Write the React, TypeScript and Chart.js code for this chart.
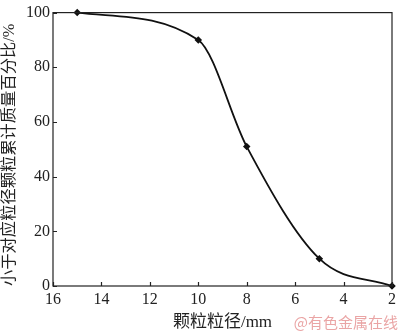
import React, { useEffect, useRef } from "react";
import { Chart, registerables } from "chart.js";

Chart.register(...registerables);

const sizes = [15, 10, 8, 5, 2];
const passing = [100, 90, 51, 10, 0];
const xTicks = [16, 14, 12, 10, 8, 6, 4, 2];
const yTicks = [0, 20, 40, 60, 80, 100];
const xTitle = "颗粒粒径/mm";
const yTitle = "小于对应粒径颗粒累计质量百分比/%";
const watermark = "@有色金属在线";

const FONT = "'Liberation Serif', 'Noto Sans CJK SC', serif";

const framePlugin = {
  id: "frame",
  afterDraw(chart: any) {
    const { ctx, chartArea } = chart;
    const xs = chart.scales.x;
    const ys = chart.scales.y;
    ctx.save();
    ctx.strokeStyle = "#222";
    ctx.lineWidth = 1.2;
    ctx.strokeRect(chartArea.left, chartArea.top, chartArea.right - chartArea.left, chartArea.bottom - chartArea.top);
    ctx.beginPath();
    xTicks.forEach((v) => {
      const px = Math.round(xs.getPixelForValue(v)) + 0.5;
      ctx.moveTo(px, chartArea.bottom);
      ctx.lineTo(px, chartArea.bottom - 4);
    });
    yTicks.forEach((v) => {
      const py = Math.round(ys.getPixelForValue(v)) + 0.5;
      ctx.moveTo(chartArea.left, py);
      ctx.lineTo(chartArea.left + 4, py);
    });
    ctx.stroke();
    ctx.restore();
  },
};

export default function App() {
  const ref = useRef<HTMLCanvasElement>(null);
  useEffect(() => {
    if (!ref.current) return;
    const chart = new Chart(ref.current, {
      type: "line",
      data: {
        datasets: [
          {
            data: sizes.map((s, i) => ({ x: s, y: passing[i] })),
            borderColor: "#111",
            backgroundColor: "#111",
            borderWidth: 1.8,
            pointStyle: "rectRot",
            pointRadius: 2.5,
            cubicInterpolationMode: "monotone",
            fill: false,
            clip: 6,
          },
        ],
      },
      options: {
        animation: false,
        responsive: false,
        maintainAspectRatio: false,
        layout: { padding: { top: 5, right: 4, left: 0, bottom: 0 } },
        plugins: { legend: { display: false }, tooltip: { enabled: false } },
        scales: {
          x: {
            type: "linear",
            reverse: true,
            min: 2,
            max: 16,
            afterBuildTicks: (s: any) => {
              s.ticks = xTicks.map((v) => ({ value: v }));
            },
            afterFit: (s: any) => {
              s.height = 47;
            },
            grid: { display: false, drawTicks: false },
            border: { display: false },
            ticks: { color: "#222", font: { family: FONT, size: 16 }, padding: 4, maxRotation: 0, autoSkip: false },
            title: { display: true, text: xTitle, color: "#222", font: { family: FONT, size: 17 }, padding: { top: 1, bottom: 0 } },
          },
          y: {
            type: "linear",
            min: 0,
            max: 100,
            afterBuildTicks: (s: any) => {
              s.ticks = yTicks.map((v) => ({ value: v }));
            },
            afterFit: (s: any) => {
              s.width = 53;
            },
            grid: { display: false, drawTicks: false },
            border: { display: false },
            ticks: { color: "#222", font: { family: FONT, size: 16 }, padding: 3 },
            title: {
              display: true,
              text: yTitle,
              align: "start",
              color: "#222",
              font: { family: FONT, size: 16.3 },
              padding: { top: 0, bottom: 2 },
            },
          },
        },
      },
      plugins: [framePlugin],
    } as any);
    return () => chart.destroy();
  }, []);
  return (
    <div style={{ position: "fixed", left: 0, top: 0, width: 400, height: 333, background: "#fff" }}>
      <canvas ref={ref} width={400} height={333} style={{ display: "block" }} />
      <span
        style={{
          position: "absolute",
          right: 2,
          bottom: 2,
          fontFamily: "'Noto Sans CJK SC', sans-serif",
          fontSize: 15,
          color: "#eaa5a5",
          lineHeight: "18px",
        }}
      >
        {watermark}
      </span>
    </div>
  );
}
